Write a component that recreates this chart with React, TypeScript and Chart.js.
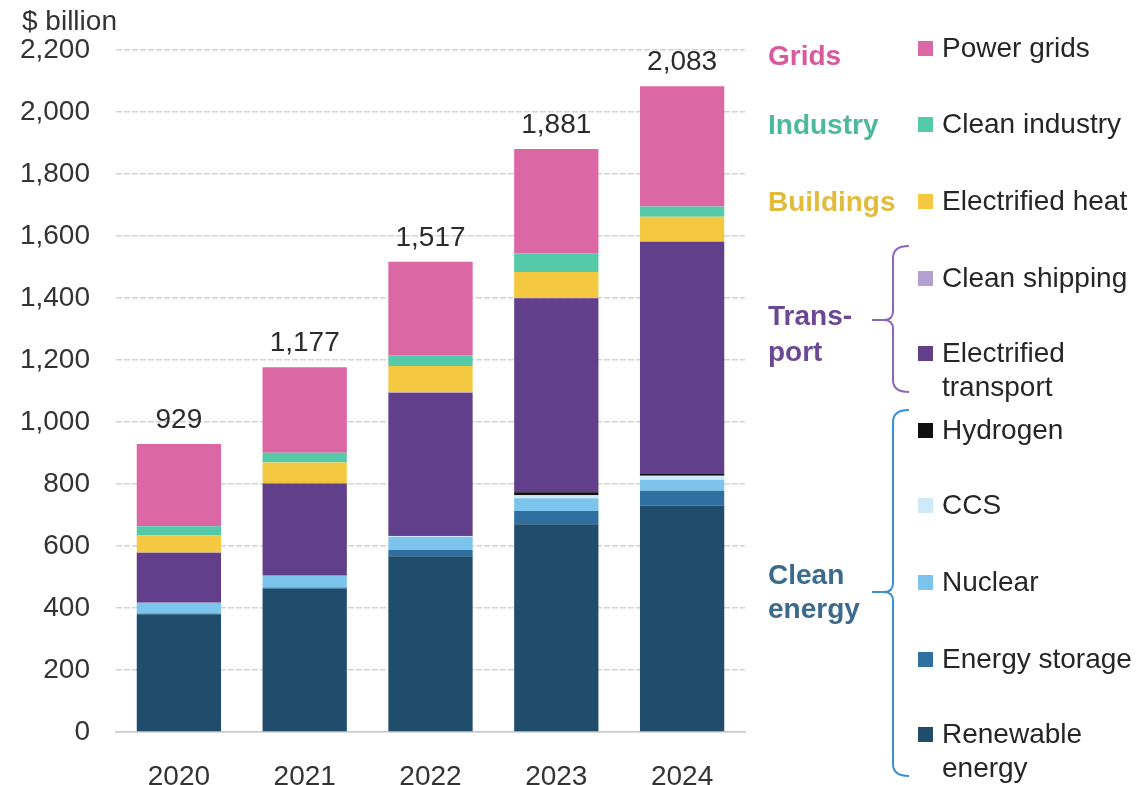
import React, { useEffect, useRef } from "react";
import { Chart, registerables } from "chart.js";

Chart.register(...registerables);

const years = ["2020", "2021", "2022", "2023", "2024"];
const totals = [929, 1177, 1517, 1881, 2083];
const yTickValues = [0, 200, 400, 600, 800, 1000, 1200, 1400, 1600, 1800, 2000, 2200];

const renewableEnergy = [380, 462, 567, 670, 730];
const energyStorage = [2, 4, 20, 43, 48];
const nuclear = [34, 37, 42, 41, 36];
const ccs = [1, 1, 3, 10, 13];
const hydrogen = [0, 0, 2, 9, 5];
const electrifiedTransport = [161, 298, 460, 626, 749];
const cleanShipping = [1, 1, 2, 2, 3];
const electrifiedHeat = [55, 66, 85, 83, 78];
const cleanIndustry = [30, 32, 34, 60, 33];
const powerGrids = [265, 276, 302, 337, 388];

const seriesLabels = [
  "Renewable energy",
  "Energy storage",
  "Nuclear",
  "CCS",
  "Hydrogen",
  "Electrified transport",
  "Clean shipping",
  "Electrified heat",
  "Clean industry",
  "Power grids",
];
const seriesValues = [
  renewableEnergy,
  energyStorage,
  nuclear,
  ccs,
  hydrogen,
  electrifiedTransport,
  cleanShipping,
  electrifiedHeat,
  cleanIndustry,
  powerGrids,
];
const seriesColors = [
  "#214d6c",
  "#2f70a0",
  "#7cc4ec",
  "#cfe9f8",
  "#111111",
  "#623f8a",
  "#b49fd3",
  "#f5c842",
  "#55caa9",
  "#dc67a5",
];

const FONT = '"Liberation Sans", Arial, Helvetica, sans-serif';

const legendPlugin = {
  id: "customLegend",
  afterDraw(chart: any) {
    const ctx = chart.ctx as CanvasRenderingContext2D;
    const xs = chart.scales.x;
    const ys = chart.scales.y;
    ctx.save();
    // totals above bars
    ctx.fillStyle = "#2b2b2b";
    ctx.font = `28px ${FONT}`;
    ctx.textAlign = "center";
    ctx.textBaseline = "alphabetic";
    totals.forEach((t, i) => {
      const x = xs.getPixelForValue(i);
      const y = ys.getPixelForValue(t);
      ctx.fillText(t.toLocaleString("en-US"), x, y - 16);
    });
    // unit label
    ctx.textAlign = "left";
    ctx.textBaseline = "middle";
    ctx.fillStyle = "#333333";
    ctx.fillText("$ billion", 22, 22);

    // legend items
    const items: [number, number[]][] = [
      [9, [49]],
      [8, [125]],
      [7, [202]],
      [6, [279]],
      [5, [354, 388]],
      [4, [431]],
      [3, [506]],
      [2, [583]],
      [1, [660]],
      [0, [735, 769]],
    ];
    const itemText: Record<number, string[]> = {
      9: ["Power grids"],
      8: ["Clean industry"],
      7: ["Electrified heat"],
      6: ["Clean shipping"],
      5: ["Electrified", "transport"],
      4: ["Hydrogen"],
      3: ["CCS"],
      2: ["Nuclear"],
      1: ["Energy storage"],
      0: ["Renewable", "energy"],
    };
    ctx.font = `28px ${FONT}`;
    items.forEach(([idx, ys2]) => {
      ctx.fillStyle = seriesColors[idx];
      ctx.fillRect(918, ys2[0] - 8, 15, 15);
      ctx.fillStyle = "#262626";
      itemText[idx].forEach((line, k) => {
        ctx.fillText(line, 942, ys2[k]);
      });
    });

    // group labels
    ctx.font = `bold 28px ${FONT}`;
    const groups: [string, string, number][] = [
      ["Grids", "#d9599e", 57],
      ["Industry", "#4cb89f", 126],
      ["Buildings", "#e2bb3c", 203],
      ["Trans-", "#6a4894", 317],
      ["port", "#6a4894", 353],
      ["Clean", "#3b6a8d", 576],
      ["energy", "#3b6a8d", 610],
    ];
    groups.forEach(([txt, col, y]) => {
      ctx.fillStyle = col;
      ctx.fillText(txt, 768, y);
    });

    // brackets
    const bracket = (x: number, top: number, bottom: number, mid: number, col: string) => {
      ctx.strokeStyle = col;
      ctx.lineWidth = 2;
      ctx.beginPath();
      ctx.moveTo(x + 16, top);
      ctx.quadraticCurveTo(x, top, x, top + 12);
      ctx.lineTo(x, mid - 9);
      ctx.quadraticCurveTo(x, mid, x - 9, mid);
      ctx.lineTo(x - 21, mid);
      ctx.moveTo(x - 9, mid);
      ctx.quadraticCurveTo(x, mid, x, mid + 9);
      ctx.lineTo(x, bottom - 12);
      ctx.quadraticCurveTo(x, bottom, x + 16, bottom);
      ctx.stroke();
    };
    bracket(893, 246, 392, 320, "#8d65bb");
    bracket(893, 410, 776, 592, "#3d8fd0");
    ctx.restore();
  },
};

export default function App() {
  const canvasRef = useRef<HTMLCanvasElement | null>(null);

  useEffect(() => {
    const canvas = canvasRef.current;
    if (!canvas) return;
    const chart = new Chart(canvas, {
      type: "bar",
      data: {
        labels: years,
        datasets: seriesLabels.map((label, i) => ({
          label,
          data: seriesValues[i],
          backgroundColor: seriesColors[i],
          borderWidth: 0,
          barPercentage: 0.67,
          categoryPercentage: 1,
        })),
      },
      options: {
        responsive: false,
        animation: false,
        devicePixelRatio: 1,
        layout: { padding: { top: 50, right: 398, bottom: 0, left: 0 } },
        plugins: {
          legend: { display: false },
          tooltip: { enabled: false },
        },
        scales: {
          x: {
            stacked: true,
            grid: { display: false },
            border: { display: true, color: "#c8c8c8", width: 1.5 },
            ticks: {
              color: "#333333",
              font: { family: FONT, size: 28 },
              padding: 20,
            },
            afterFit(scale: any) {
              scale.height = 53;
            },
          },
          y: {
            stacked: true,
            min: 0,
            max: 2200,
            afterBuildTicks(scale: any) {
              scale.ticks = yTickValues.map((v) => ({ value: v }));
            },
            grid: {
              color: "#d3d3d3",
              lineWidth: 1.5,
              drawTicks: false,
            },
            border: { display: false, dash: [6, 2] },
            ticks: {
              color: "#333333",
              font: { family: FONT, size: 28 },
              padding: 26,
              callback: (v: any) => Number(v).toLocaleString("en-US"),
            },
            afterFit(scale: any) {
              scale.width = 116;
            },
          },
        },
      },
      plugins: [legendPlugin],
    });
    return () => chart.destroy();
  }, []);

  return (
    <div style={{ position: "absolute", left: 0, top: 0, width: 1143, height: 785, background: "#fff" }}>
      <canvas ref={canvasRef} width={1143} height={785} style={{ display: "block" }} />
    </div>
  );
}
